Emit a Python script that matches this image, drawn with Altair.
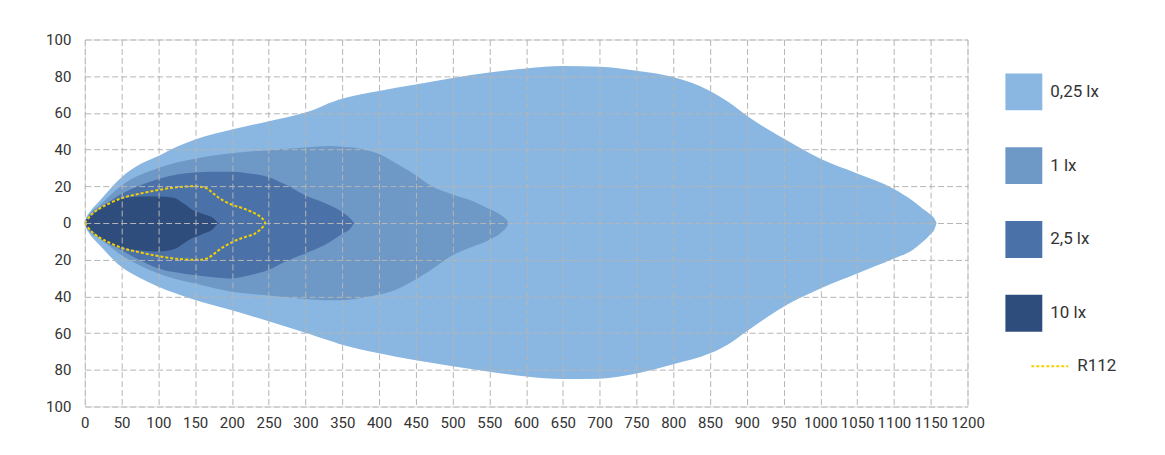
import altair as alt
import pandas as pd

LEVELS = ["0,25 lx", "1 lx", "2,5 lx", "10 lx"]
COLORS = ["#8AB7E1", "#6E98C6", "#4A72A8", "#2E4D7D"]

# 0,25 lx contour
x_025 = [0, 2, 5, 20, 50, 75, 100, 125, 150, 200, 250, 300, 315, 330, 345, 400, 450, 500, 550, 600, 650, 700,
         750, 800, 850, 875, 900, 950, 1000, 1050, 1100, 1125, 1140, 1150, 1155, 1158]
up_025 = [0, 3, 5, 12, 25, 32, 36.5, 41.5, 45.5, 51, 55.5, 60.2, 62.2, 65, 67.2, 72, 75.5, 79, 82, 84.2, 85.5, 85.2,
          83, 79.5, 72, 66, 58.5, 46, 35, 27, 18.6, 12.3, 7.5, 4.5, 2.5, 0]
lo_025 = [0, -3, -5, -12, -24, -30, -34.7, -38.5, -42, -47.6, -53.5, -59.8, -61.8, -63.8, -65.8, -71, -74.8, -78,
          -81, -83.6, -85, -84.8, -82, -77, -71, -66, -59, -45.6, -35.7, -27.5, -19.4, -14.8, -10, -6, -3.5, 0]

# 1 lx contour
x_1 = [0, 5, 20, 50, 100, 150, 200, 250, 300, 333, 350, 373, 400, 423, 449, 468, 498, 527, 549, 567, 573, 576]
up_1 = [0, 4, 9.6, 20.5, 30, 35, 38, 39.7, 41.2, 41.9, 41.5, 40.6, 37.6, 32.6, 26.3, 20.9, 15.8, 12, 7.8, 4, 2, 0]
lo_1 = [0, -4, -8.5, -17.6, -27.5, -33, -37.5, -39.5, -41.4, -42.1, -42.1, -41, -39, -36.3, -30.9, -26.3, -18,
        -13, -9.4, -4.9, -2.5, 0]

# 2,5 lx contour
x_25 = [0, 5, 20, 50, 75, 100, 125, 150, 175, 200, 224, 250, 270, 300, 326, 350, 361, 366]
up_25 = [0, 3.5, 7.8, 16, 20.5, 24, 26.4, 27.5, 28, 28, 27, 25, 21.5, 15, 10.9, 6, 2.4, 0]
lo_25 = [0, -3.5, -7.6, -14.8, -20.3, -24.8, -27, -28.4, -29.5, -30.2, -28.5, -25.5, -21.5, -16.5, -12, -5.8, -3, 0]

# 10 lx contour
x_10 = [0, 3, 9, 20, 34, 50, 75, 100, 120, 135, 145, 160, 175, 181]
up_10 = [0, 2.5, 4, 7.8, 11.4, 13.2, 14.5, 14.5, 13.8, 10.5, 7.5, 5, 2.5, 0]
lo_10 = [0, -2.5, -4, -8, -11.5, -13.5, -15, -15.5, -14.5, -11, -8.5, -6, -3, 0]

# R112 closed outline
r112_x = [0, 10, 25, 50, 75, 100, 125, 150, 165, 175, 185, 200, 215, 230, 240, 245,
          240, 230, 215, 200, 185, 175, 165, 150, 125, 100, 75, 50, 25, 10, 0]
r112_y = [0, 5, 9, 13.5, 16, 18, 19.5, 20, 19, 16, 13, 10, 8, 5.5, 3, 0,
          -3, -6, -8, -10.5, -14, -17, -19.5, -20, -19.5, -18, -16, -13.5, -9, -5, 0]

X_TICKS = list(range(0, 1201, 50))
Y_TICKS = list(range(-100, 101, 20))

contours = [(LEVELS[0], x_025, up_025, lo_025), (LEVELS[1], x_1, up_1, lo_1),
            (LEVELS[2], x_25, up_25, lo_25), (LEVELS[3], x_10, up_10, lo_10)]

FONT = "Roboto"
xscale = alt.Scale(domain=[0, 1200], nice=False, zero=False)
yscale = alt.Scale(domain=[-100, 100], nice=False, zero=False)

xaxis = alt.Axis(values=X_TICKS, title=None, grid=True, gridDash=[6, 3], gridColor="#b5b5b5", gridWidth=1,
                 domain=False, ticks=False, labelFont=FONT, labelFontSize=15, labelColor="#333333",
                 labelPadding=9, labelFlush=False, labelOverlap=False, labelExpr="format(datum.value, 'd')",
                 zindex=1)
yaxis = alt.Axis(values=Y_TICKS, title=None, grid=True, gridDash=[6, 3], gridColor="#b5b5b5", gridWidth=1,
                 domain=False, ticks=False, labelFont=FONT, labelFontSize=15, labelColor="#333333",
                 labelPadding=14, labelFlush=False, labelOverlap=False,
                 labelExpr="format(abs(datum.value), 'd')", zindex=1)

fill_legend = alt.Legend(title=None, orient="none", legendX=923, legendY=34, symbolType="square",
                         symbolSize=1369, symbolStrokeWidth=0, symbolOpacity=1, labelFont=FONT,
                         labelFontSize=17, labelColor="#333333", labelOffset=8, rowPadding=37, padding=0)

layers = []
for name, xs, ups, los in contours:
    df = pd.DataFrame({"x": xs, "up": ups, "lo": los, "level": name})
    layers.append(
        alt.Chart(df).mark_area(interpolate="monotone", opacity=1).encode(
            x=alt.X("x:Q", scale=xscale, axis=xaxis),
            y=alt.Y("up:Q", scale=yscale, axis=yaxis),
            y2="lo:Q",
            fill=alt.Fill("level:N", scale=alt.Scale(domain=LEVELS, range=COLORS), legend=fill_legend),
        )
    )

r_df = pd.DataFrame({"x": r112_x, "y": r112_y, "i": list(range(len(r112_x))), "name": "R112"})
line = alt.Chart(r_df).mark_line(interpolate="cardinal", strokeDash=[3, 2], strokeWidth=2).encode(
    x=alt.X("x:Q", scale=xscale, axis=xaxis),
    y=alt.Y("y:Q", scale=yscale, axis=yaxis),
    order="i:Q",
    stroke=alt.Stroke("name:N", scale=alt.Scale(domain=["R112"], range=["#F5D000"]),
                      legend=alt.Legend(title=None, orient="none", legendX=948, legendY=308,
                                        symbolType="stroke", symbolSize=1369, symbolStrokeWidth=2,
                                        symbolDash=[3, 2], labelFont=FONT, labelFontSize=17,
                                        labelColor="#333333", labelOffset=8, padding=0)),
)

chart = alt.layer(*layers, line).properties(
    width=885, height=368,
    padding={"left": 77, "top": 31, "right": 190, "bottom": 40},
    autosize=alt.AutoSizeParams(type="none"),
).configure_view(stroke=None).configure(background="white")

chart.save("out.html", embed_options={"renderer": "svg", "actions": False})
